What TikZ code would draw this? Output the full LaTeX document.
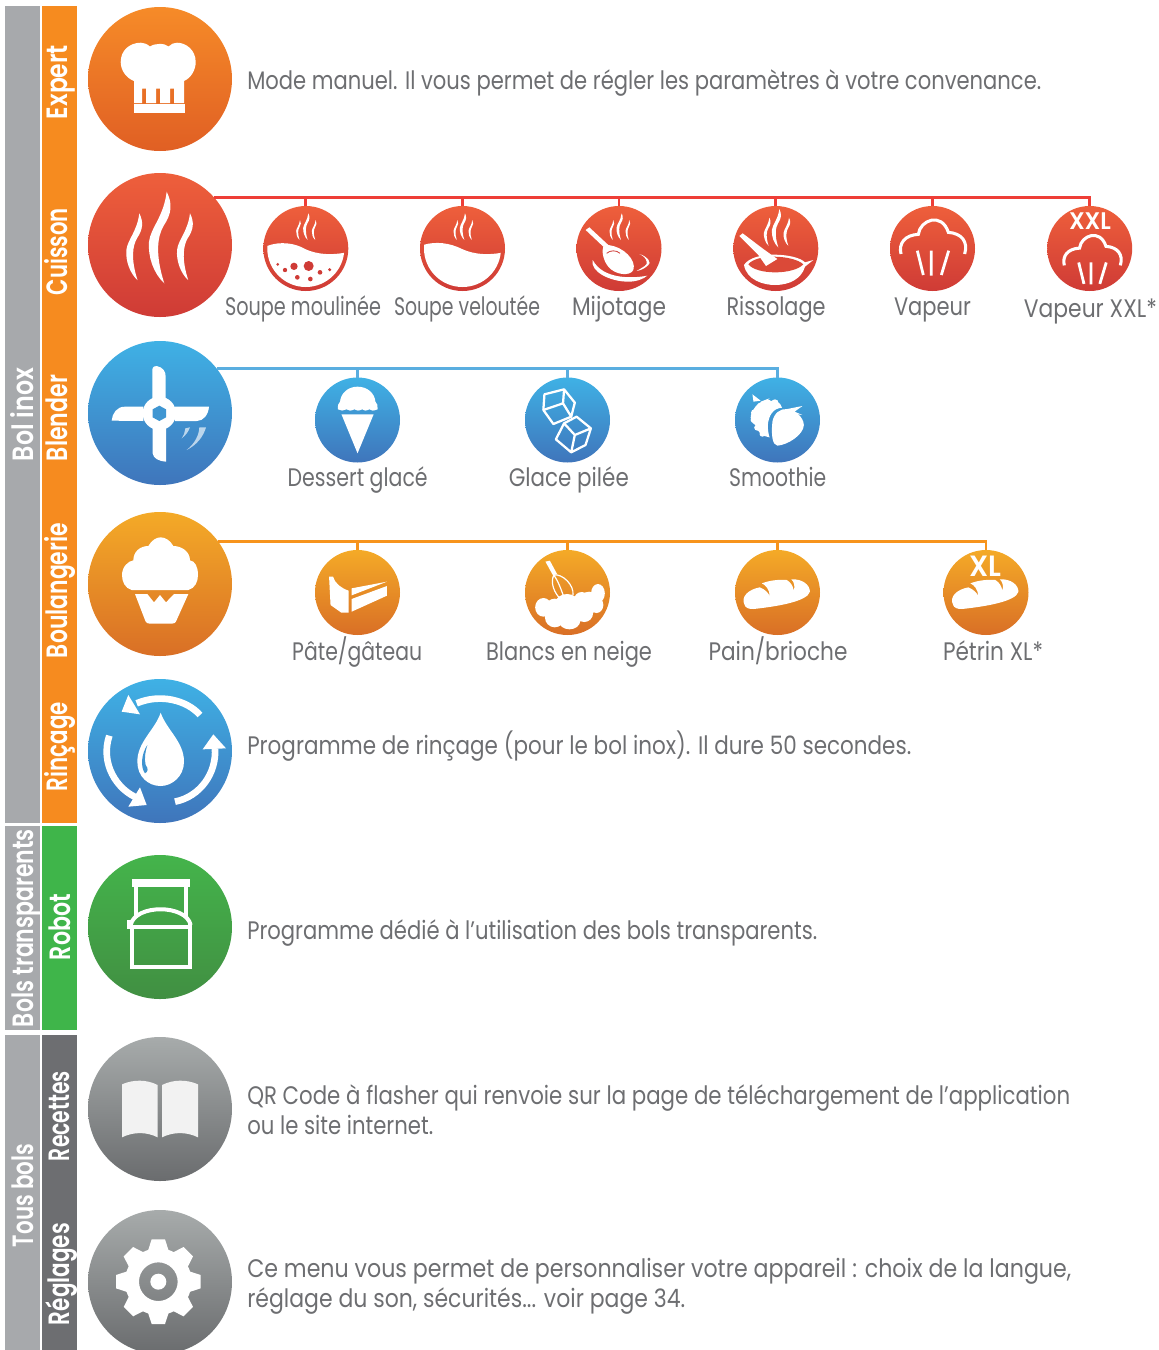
\documentclass[tikz,border=0pt]{standalone}
\usepackage{fontspec}
\usepackage{graphicx}
\setmainfont{Poppins}
\newfontfamily\lightf{Poppins}
\newfontfamily\boldf{Poppins SemiBold}
\definecolor{txt}{HTML}{6D6E71}
\definecolor{barg}{HTML}{A7A9AC}
\definecolor{baro}{HTML}{F68B1F}
\definecolor{barv}{HTML}{3FB54A}
\definecolor{bard}{HTML}{6D6E71}
\definecolor{redl}{HTML}{EE3E37}
\definecolor{bluel}{HTML}{5AAEE0}
\definecolor{orl}{HTML}{F7941D}
\newsavebox\fwbox
\newcommand\fw[2]{\sbox\fwbox{#2}\pgfmathsetmacro\fwr{#1*0.75/\wd\fwbox}\scalebox{\fwr}[1]{\usebox\fwbox}}
\newcommand\flame[3]{\fill[white,shift={(#1,#2)},scale=#3] (0,0) .. controls (6,12) and (5,22) .. (-3,34) .. controls (-9,44) and (-12,62) .. (-2.4,91.6) .. controls (-13,82) and (-19,65) .. (-17.7,50) .. controls (-16,36) and (-3,25) .. (0,0) -- cycle;}
\newcommand\muffinline{\draw[white,line width=2.3pt] (633,207) .. controls (625,175) and (645,150) .. (685,148) .. controls (690,105) and (755,80) .. (775,142) .. controls (815,145) and (835,170) .. (824,207);
\draw[white,line width=2.1pt] (682,197) -- (700,270) (724,197) -- (724,272) (776,197) -- (754,270);}
\newcommand\breadshape{\fill[white] (947,225) .. controls (938,200) and (955,178) .. (978,172) .. controls (988,178) and (995,188) .. (998,198) .. controls (998,180) and (990,165) .. (982,160) .. controls (1000,150) and (1020,148) .. (1033,150) .. controls (1042,158) and (1046,170) .. (1047,182) .. controls (1050,170) and (1048,155) .. (1042,148) .. controls (1065,146) and (1080,165) .. (1080,185) .. controls (1075,215) and (1010,230) .. (965,237) .. controls (955,238) and (948,232) .. (947,225) -- cycle;}
\tikzset{
 zm/.style n args={4}{shift={(#1,#2)},x=#3pt,y=-#4pt},
 bigc/.style={circle,minimum size=108pt,inner sep=0pt,outer sep=0pt},
 smc/.style={circle,minimum size=63.75pt,inner sep=0pt,outer sep=0pt},
 redg/.style={top color=ee1,bottom color=ee2},
 blug/.style={top color=bb1,bottom color=bb2},
 orag/.style={top color=oo1,bottom color=oo2},
 desc/.style={anchor=base west,text=txt,inner sep=0pt,font=\lightf\fontsize{19}{22}\selectfont},
 lab/.style={anchor=base,text=txt,inner sep=0pt,font=\lightf\fontsize{19}{22}\selectfont},
 rotl/.style={anchor=base,rotate=90,text=white,inner sep=0pt,font=\boldf\fontsize{22}{26}\selectfont},
 redc/.style={redl,line width=2.1pt},
 bluc/.style={bluel,line width=2.1pt},
 orac/.style={orl,line width=2.1pt},
}
\definecolor{ee1}{HTML}{EE5F3B}\definecolor{ee2}{HTML}{CF3B36}
\definecolor{bb1}{HTML}{3FB1E5}\definecolor{bb2}{HTML}{3F75BB}
\definecolor{oo1}{HTML}{F4AA27}\definecolor{oo2}{HTML}{D96F26}
\definecolor{ex1}{HTML}{F68B28}\definecolor{ex2}{HTML}{E05F24}
\definecolor{gr1}{HTML}{44B44B}\definecolor{gr2}{HTML}{418F42}
\definecolor{gy1}{HTML}{A7ABAB}\definecolor{gy2}{HTML}{6A6C6E}
\begin{document}
\begin{tikzpicture}[x=0.75pt,y=-0.75pt]
\clip (0,0) rectangle (1159,1350);
% side bars
\fill[barg] (5,6) rectangle (40,823);
\fill[barg] (5,826) rectangle (40,1030);
\fill[barg] (5,1035) rectangle (40,1350);
\fill[baro] (42,6) rectangle (77,823);
\fill[barv] (42,826) rectangle (77,1030);
\fill[bard] (42,1035) rectangle (77,1350);
\node[rotl] (tbolinox) at (33.5,414.5) {\fw{93}{Bol inox}};
\node[rotl] (tbolst) at (33.5,928) {\fw{198}{Bols transparents}};
\node[rotl] (ttous) at (33.5,1195.5) {\fw{103}{Tous bols}};
\node[rotl] (texp) at (67.7,82) {\fw{74}{Expert}};
\node[rotl] (tcui) at (67.7,251.5) {\fw{87}{Cuisson}};
\node[rotl] (tble) at (67.7,418) {\fw{86}{Blender}};
\node[rotl] (tbou) at (67.7,590.5) {\fw{135}{Boulangerie}};
\node[rotl] (trin) at (67.7,746.5) {\fw{89}{Rinçage}};
\node[rotl] (trob) at (70.7,927) {\fw{66}{Robot}};
\node[rotl] (trec) at (69.3,1116) {\fw{90}{Recettes}};
\node[rotl] (treg) at (69.3,1274) {\fw{102}{Réglages}};
% big circles
\node[bigc,top color=ex1,bottom color=ex2] (expert) at (160,79) {};
\node[bigc,redg] (cuisson) at (160,245) {};
\node[bigc,blug] (blender) at (160,413) {};
\node[bigc,orag] (boul) at (160,584) {};
\node[bigc,blug] (rincage) at (160,751) {};
\node[bigc,top color=gr1,bottom color=gr2] (robot) at (160,927) {};
\node[bigc,top color=gy1,bottom color=gy2] (recettes) at (160,1109) {};
\node[bigc,top color=gy1,bottom color=gy2] (reglages) at (160,1282) {};
% small circles
\foreach \n/\x in {c1/305.8,c2/462.5,c3/619,c4/775.8,c5/932.5,c6/1089.7}
  \node[smc,redg] (\n) at (\x,248.5) {};
\foreach \n/\x in {b1/357.5,b2/567.5,b3/777.5}
  \node[smc,blug] (\n) at (\x,420) {};
\foreach \n/\x in {o1/357.5,o2/567.5,o3/777.5,o4/986}
  \node[smc,orag] (\n) at (\x,592.5) {};
% connectors
\draw[redc] (cuisson.41.3) -| (c6.north);
\foreach \n in {c1,c2,c3,c4,c5} \draw[redc] (\n.north) -- (\n.north |- cuisson.41.3);
\draw[bluc] (blender.38.2) -| (b3.north);
\foreach \n in {b1,b2} \draw[bluc] (\n.north) -- (\n.north |- blender.38.2);
\draw[orac] (boul.36.2) -| (o4.north);
\foreach \n in {o1,o2,o3} \draw[orac] (\n.north) -- (\n.north |- boul.36.2);
% Expert hat
\fill[white] (134,81) -- (134,103) -- (142,103) -- (142,88.5) -- (146,88.5) -- (146,103) -- (156,103) -- (156,88.5) -- (160,88.5) -- (160,103) -- (170,103) -- (170,88.5) -- (174,88.5) -- (174,103) -- (184,103) -- (184,81) .. controls (191,78) and (195.7,70) .. (195.7,62) .. controls (195.7,50) and (186,42.7) .. (177,42.7) .. controls (174,42.7) and (171,44) .. (168.5,46.5) .. controls (165,43) and (155,43) .. (150,46.5) .. controls (147,44) and (144,42.7) .. (141,42.7) .. controls (130,42.7) and (120.7,50) .. (120.7,62) .. controls (120.7,70) and (126,78) .. (134,81) -- cycle;
\fill[white] (134,104) rectangle (185,112.7);
% Cuisson flames
\flame{166.7}{191.7}{1}
\flame{139.3}{213.3}{.73}
\flame{190}{213.3}{.73}
% Soup circles
\begin{scope}
\clip (c1) circle[radius=38.5];
\fill[white] (267,246) .. controls (280,241) and (295,243) .. (305,249) .. controls (318,255) and (332,255) .. (345,252.7) -- (345,290) -- (267,290) -- cycle;
\end{scope}
\begin{scope}
\clip (c2) circle[radius=38.5];
\fill[white] (423,245) .. controls (436,241) and (450,243) .. (462,249) .. controls (475,255) and (489,255) .. (502,252.7) -- (502,290) -- (423,290) -- cycle;
\end{scope}
\begin{scope}[zm={220}{185}{.25}{.25}]
\flame{265}{85}{.87}\flame{240}{105}{.65}\flame{287}{105}{.65}
\flame{735}{85}{.87}\flame{712}{105}{.65}\flame{757}{105}{.65}
\flame{1205}{85}{.87}\flame{1180}{105}{.65}\flame{1228}{105}{.65}
\fill[ee2] (173,238) circle[radius=4.5] (195,255) circle[radius=6.5] (222,244) circle[radius=11] (266,243) circle[radius=15] (232,277) circle[radius=7] (271,282) circle[radius=7] (300,262) circle[radius=7] (329,254) circle[radius=5];
% Mijotage
\fill[white] (1097,135) -- (1108,127) -- (1165,180) .. controls (1210,185) and (1250,225) .. (1240,255) .. controls (1230,275) and (1185,270) .. (1165,245) .. controls (1148,225) and (1145,195) .. (1150,185) -- cycle;
\draw[ee2,line width=.6pt] (1160,205) .. controls (1170,195) and (1190,195) .. (1200,205);
\fill[white] (1118,225) .. controls (1110,260) and (1170,290) .. (1225,290) .. controls (1250,290) and (1270,282) .. (1282,272) .. controls (1240,280) and (1150,285) .. (1118,225) -- cycle;
\fill[white] (1258,207) .. controls (1285,215) and (1295,235) .. (1285,240) .. controls (1275,250) and (1265,255) .. (1250,258) .. controls (1270,245) and (1285,240) .. (1280,230) .. controls (1278,220) and (1270,212) .. (1258,207) -- cycle;
\end{scope}
\begin{scope}[zm={690}{185}{.25}{.25}]
% Rissolage
\flame{268}{72}{1.26}\flame{238}{98}{.92}\flame{297}{98}{.92}
\fill[white] (162,240) .. controls (170,285) and (220,300) .. (255,300) .. controls (300,300) and (335,280) .. (345,245) -- (370,225) -- (345,232) .. controls (320,205) and (190,195) .. (162,240) -- cycle;
\fill[ee1!40!ee2] (175,238) .. controls (200,205) and (310,210) .. (340,238) .. controls (310,270) and (200,270) .. (175,238) -- cycle;
\fill[white] (148,153) -- (158,145) -- (220,192) -- (262,222) -- (228,243) -- (205,210) -- cycle;
% Vapeur
\muffinline
\begin{scope}[shift={(1203,140)},scale=.88,shift={(-724,-92)}]
\muffinline
\end{scope}
\end{scope}
\node[anchor=center,text=white,inner sep=0pt,font=\boldf\fontsize{18}{20}\selectfont] (xxl) at (1090,221) {\fw{42}{XXL}};
% Blender
\begin{scope}[zm={0}{335}{.25}{.25}]
\fill[white] (457,200) -- (457,105) .. controls (457,95) and (465,92) .. (470,93) .. controls (490,97) and (497,110) .. (497,125) -- (497,200) -- cycle;
\fill[white] (458,270) -- (458,355) .. controls (460,370) and (475,378) .. (498,380) -- (498,270) -- cycle;
\fill[white] (335,257) .. controls (337,235) and (350,215) .. (375,215) -- (430,215) -- (430,258) -- cycle;
\fill[white] (525,215) -- (627,215) .. controls (625,240) and (610,258) .. (590,258) -- (525,258) -- cycle;
\fill[white] (478,235) circle[radius=50];
\fill[bb1!55!bb2] (478,212) -- (498,223) -- (498,247) -- (478,258) -- (458,247) -- (458,223) -- cycle;
\fill[white,opacity=.65] (545,310) .. controls (558,300) and (565,290) .. (570,277) -- (556,280) .. controls (555,290) and (552,300) .. (545,310) -- cycle;
\fill[white,opacity=.65] (560,345) .. controls (590,330) and (610,305) .. (618,277) -- (598,277) .. controls (597,300) and (585,325) .. (560,345) -- cycle;
% Muffin
\fill[white] (395,765) .. controls (375,760) and (366,740) .. (366,720) .. controls (366,695) and (385,678) .. (400,676) .. controls (400,650) and (420,633) .. (445,633) .. controls (455,615) and (470,607) .. (482,607) .. controls (495,607) and (510,615) .. (520,633) .. controls (545,633) and (570,650) .. (570,676) .. controls (585,678) and (594,695) .. (594,720) .. controls (594,740) and (585,760) .. (565,765) -- cycle;
\fill[white] (405,777) -- (442,777) -- (462,802) -- (480,780) -- (498,802) -- (522,777) -- (565,777) -- (530,855) .. controls (527,865) and (520,866) .. (515,866) -- (450,866) .. controls (445,866) and (438,865) .. (435,855) -- cycle;
\end{scope}
% blue small icons
\begin{scope}[zm={280}{360}{.268}{.25}]
\fill[white] (162,148) .. controls (160,138) and (163,130) .. (168,125) .. controls (170,100) and (190,80) .. (217,80) .. controls (245,80) and (265,100) .. (267,125) .. controls (272,130) and (275,138) .. (273,148) .. controls (262,153) and (255,153) .. (250,148) .. controls (240,153) and (235,153) .. (230,148) .. controls (220,153) and (215,153) .. (208,148) .. controls (198,153) and (193,153) .. (186,148) .. controls (178,153) and (170,153) .. (162,148) -- cycle;
\fill[white] (172,163) -- (262,163) -- (217,280) -- cycle;
\draw[white,line width=1.7pt,line join=round] (740,103) -- (795,88) -- (825,128) -- (815,170) -- (765,192) -- (737,150) -- cycle (737,150) -- (792,130) -- (795,88) (792,130) -- (815,170);
\draw[white,line width=1.7pt,line join=round] (795,190) -- (830,170) -- (870,205) -- (855,255) -- (815,277) -- (772,238) -- cycle (795,190) -- (825,225) -- (870,205) (825,225) -- (815,277);
% berries
\fill[white] (1318,165) .. controls (1325,145) and (1340,118) .. (1365,125) .. controls (1385,118) and (1400,125) .. (1405,143) .. controls (1380,145) and (1368,165) .. (1365,195) .. controls (1365,210) and (1367,222) .. (1370,232) .. controls (1350,230) and (1335,215) .. (1330,195) .. controls (1320,190) and (1315,175) .. (1318,165) -- cycle;
\fill[white] (1328,158) circle[radius=10] (1326,180) circle[radius=9] (1336,203) circle[radius=9] (1345,138) circle[radius=10] (1365,128) circle[radius=10] (1385,128) circle[radius=10] (1350,222) circle[radius=8];
\fill[white] (1322,103) -- (1345,122) -- (1325,125) -- cycle (1345,125) -- (1370,115) -- (1355,128) -- cycle;
\fill[white] (1378,185) .. controls (1382,160) and (1400,145) .. (1420,147) .. controls (1440,150) and (1465,170) .. (1466,195) .. controls (1465,225) and (1420,255) .. (1392,257) .. controls (1378,255) and (1374,225) .. (1378,185) -- cycle;
\fill[white] (1415,148) -- (1462,138) -- (1440,155) -- (1462,165) -- (1430,160) -- cycle;
\end{scope}
% orange small icons
\begin{scope}[zm={280}{530}{.368}{.25}]
% cake
\fill[white] (100,140) -- (108,140) .. controls (112,160) and (125,175) .. (140,182) -- (140,248) -- (125,248) -- (103,225) -- cycle;
\fill[white] (146,175) -- (218,155) -- (146,196) -- cycle;
\fill[white] (146,207) -- (218,168) -- (218,197) -- (146,245) -- cycle;
% whisk
\fill[white] (541,95) -- (550,92) -- (565,133) -- (556,135) -- cycle;
\draw[white,line width=.9pt] (558,135) .. controls (575,130) and (600,165) .. (597,195) (558,135) .. controls (570,160) and (575,190) .. (580,205) (558,135) .. controls (550,160) and (560,190) .. (572,208);
\fill[white] (537,232) ellipse[x radius=17,y radius=28] (560,262) ellipse[x radius=20,y radius=30] (590,272) ellipse[x radius=22,y radius=26] (620,250) ellipse[x radius=18,y radius=26] (645,225) ellipse[x radius=14,y radius=24] (648,190) ellipse[x radius=14,y radius=28] (615,210) ellipse[x radius=16,y radius=24] (585,220) ellipse[x radius=24,y radius=28] (560,230) ellipse[x radius=18,y radius=24] (595,240) ellipse[x radius=45,y radius=35] (630,215) ellipse[x radius=20,y radius=30];
\breadshape
\begin{scope}[shift={(425,0)}]
\breadshape
\end{scope}
\end{scope}
\node[anchor=center,text=white,inner sep=0pt,font=\boldf\fontsize{22}{24}\selectfont] (xl) at (985.6,566.6) {\fw{32}{XL}};
% Rincage, Robot
\begin{scope}[zm={0}{670}{.25}{.25}]
\draw[white,line width=5pt] (600,135) .. controls (560,90) and (480,70) .. (410,100);
\fill[white] (365,125) -- (385,75) -- (420,133) -- cycle;
\draw[white,line width=5pt] (525,395) .. controls (600,380) and (650,310) .. (645,235);
\fill[white] (608,238) -- (640,193) -- (678,235) -- cycle;
\draw[white,line width=5pt] (328,197) .. controls (300,280) and (350,360) .. (415,385);
\fill[white] (385,410) -- (420,352) -- (440,405) -- cycle;
\fill[white] (482,128) .. controls (500,180) and (552,215) .. (552,275) .. controls (552,320) and (515,348) .. (482,348) .. controls (445,348) and (412,320) .. (412,275) .. controls (412,215) and (465,180) .. (482,128) -- cycle;
\fill[bb1!50!bb2] (442,225) .. controls (425,250) and (420,290) .. (435,310) .. controls (445,305) and (445,295) .. (437,285) .. controls (432,265) and (436,245) .. (442,225) -- cycle;
\draw[white,line width=3pt] (408,650) -- (408,738) (557,650) -- (557,738);
\fill[white] (397,628) rectangle (570,650);
\draw[white,line width=3pt] (392,765) .. controls (405,702) and (558,702) .. (572,765);
\fill[white] (382,750) rectangle (397,776);
\draw[white,line width=3pt] (396,771) -- (572,771) (396,771) -- (396,890) -- (570,890) -- (570,758);
\end{scope}
% Book, gear
\begin{scope}[zm={0}{1020}{.25}{.25}]
\fill[white!95!black] (366,193) .. controls (400,178) and (440,178) .. (473,195) -- (473,352) .. controls (440,335) and (400,335) .. (366,352) -- cycle;
\fill[white!95!black] (486,195) .. controls (520,178) and (560,178) .. (594,193) -- (594,352) .. controls (560,335) and (520,335) .. (486,352) -- cycle;
\fill[white,even odd rule] (475,785) circle[radius=100] (475,785) circle[radius=58];
\fill[white] (475,785) circle[radius=24];
\foreach \a in {0,45,...,315}
  \fill[white,shift={(475,785)},rotate=\a] (-32,-90) -- (-20,-127) -- (20,-127) -- (32,-90) -- cycle;
\end{scope}
% texts
\node[desc] (d1) at (247,89) {\fw{794}{Mode manuel. Il vous permet de régler les paramètres à votre convenance.}};
\node[desc] (d2) at (247,754) {\fw{664}{Programme de rinçage (pour le bol inox). Il dure 50 secondes.}};
\node[desc] (d3) at (247,939) {\fw{570}{Programme dédié à l’utilisation des bols transparents.}};
\node[desc] (d4) at (247,1104) {\fw{823}{QR Code à flasher qui renvoie sur la page de téléchargement de l’application}};
\node[desc] (d5) at (247,1134) {\fw{186}{ou le site internet.}};
\node[desc] (d6) at (247,1277) {\fw{824}{Ce menu vous permet de personnaliser votre appareil : choix de la langue,}};
\node[desc] (d7) at (247,1307) {\fw{438}{réglage du son, sécurités... voir page 34.}};
\node[lab] (l1) at (303,315.7) {\fw{156}{Soupe moulinée}};
\node[lab] (l2) at (467,315.7) {\fw{146}{Soupe veloutée}};
\node[lab] (l3) at (619,315.7) {\fw{94}{Mijotage}};
\node[lab] (l4) at (776,315.7) {\fw{99}{Rissolage}};
\node[lab] (l5) at (932.5,315.7) {\fw{77}{Vapeur}};
\node[lab] (l6) at (1090.4,317.7) {\fw{133}{Vapeur XXL*}};
\node[lab] (l7) at (357.7,486) {\fw{140}{Dessert glacé}};
\node[lab] (l8) at (568.8,486) {\fw{120}{Glace pilée}};
\node[lab] (l9) at (777.7,486) {\fw{97}{Smoothie}};
\node[lab] (l10) at (357.2,660) {\fw{130}{Pâte/gâteau}};
\node[lab] (l11) at (569,660) {\fw{166}{Blancs en neige}};
\node[lab] (l12) at (778,660) {\fw{139}{Pain/brioche}};
\node[lab] (l13) at (993,660) {\fw{100}{Pétrin XL*}};
\end{tikzpicture}
\end{document}
